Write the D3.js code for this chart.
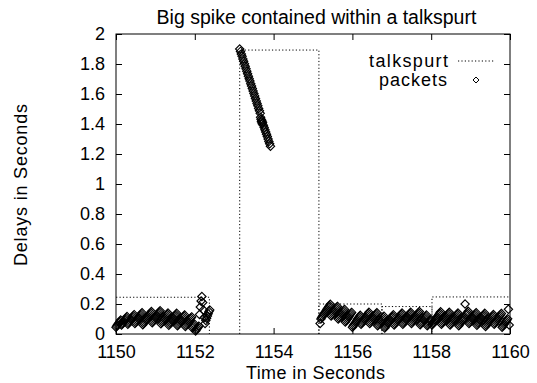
<!DOCTYPE html>
<html><head><meta charset="utf-8">
<script src="https://cdn.jsdelivr.net/npm/d3@7"></script>
<style>body{margin:0;background:#fff}svg{display:block}text{font-family:"Liberation Sans",Arial,Helvetica,sans-serif;fill:#000}</style>
</head><body><svg id="c" width="537" height="383"></svg>
<script>
// ---- data ----
const xTicks = [1150, 1152, 1154, 1156, 1158, 1160];
const yTicks = [0, 0.2, 0.4, 0.6, 0.8, 1, 1.2, 1.4, 1.6, 1.8, 2];
const yTickLabels = ["0", "0.2", "0.4", "0.6", "0.8", "1", "1.2", "1.4", "1.6", "1.8", "2"];
// talkspurt rectangles
const tsStart  = [1149.9, 1153.14, 1155.15, 1156.75, 1158.02];
const tsEnd    = [1152.37, 1155.15, 1156.75, 1158.02, 1160.3];
const tsHeight = [0.245, 1.893, 0.2, 0.183, 0.247];
// packet delays (ms), packets every 20 ms
const pktStep = 0.02;
const burst1Start = 1150.0;
const burst1 = [45,53,61,69,77,85,93,60,68,76, 84,92,100,108,116,65,73,81,89,97,
  105,113,121,129,70,78,86,94,102,110, 118,126,134,142,62,70,78,86,94,102,
  110,118,126,134,142,150,75,83,91,99, 107,115,123,131,139,147,155,68,76,84,
  92,100,108,116,124,132,140,58,66,74, 82,90,98,106,114,122,130,138,55,63,
  71,79,87,95,103,111,119,127,50,58, 66,74,82,90,98,106,114,40,48,56,
  64,20,28,36,44,52,130,180,220,250, 210,160,110,70,90,105,120,135,150,160];
const burst3Start = 1155.18;
const burst3 = [70,100,110,118,126,134,142,150,158,166, 174,182,190,198,120,128,136,144,152,160,
  168,176,184,100,108,116,124,132,140,148, 156,164,80,88,96,104,112,120,128,136,
  144,45,53,61,69,77,85,93,101,109, 117,125,65,73,81,89,97,105,113,121,
  129,137,145,70,78,86,94,102,110,118, 126,134,142,55,63,71,79,87,95,103,
  111,119,40,48,56,64,72,80,88,96, 104,112,120,128,60,68,76,84,92,100,
  108,116,124,132,140,65,73,81,89,97, 105,113,121,129,137,145,70,78,86,94,
  102,110,118,126,134,142,150,62,70,78, 86,94,102,110,118,126,55,63,71,79,87,95];
const burst4Start = 1158.02;
const burst4 = [60,68,76,84,92,100,108,116,124,132, 140,148,65,73,81,89,97,105,113,121,
  129,137,145,60,68,76,84,92,100,108, 116,124,132,140,55,63,71,79,87,95,
  103,111,200,127,135,143,151,70,78,86, 94,102,110,118,126,134,142,58,66,74,
  82,90,98,106,114,122,130,138,50,58, 66,74,82,90,98,106,114,122,130,65,
  73,81,89,97,105,113,121,129,137,45, 53,61,69,77,85,93,101,165,60];
// the spike (seconds)
const spikeTimes = [1153.14,1153.16,1153.18,1153.20,1153.22,1153.24,1153.26,1153.28,1153.30,1153.32,
  1153.34,1153.36,1153.38,1153.40,1153.42,1153.44,1153.46,1153.48,1153.50,1153.52,
  1153.54,1153.56,1153.58,1153.60,1153.62,1153.64,1153.66,
  1153.67,1153.68,1153.69,1153.70,1153.71,1153.72,
  1153.74,1153.76,1153.78,1153.80,1153.82,1153.84,1153.86,1153.88,1153.90,1153.92];
const spikeDelays = [1.900,1.884,1.867,1.851,1.834,1.818,1.801,1.785,1.768,1.752,
  1.735,1.719,1.702,1.686,1.669,1.653,1.636,1.620,1.603,1.587,
  1.570,1.554,1.537,1.521,1.504,1.488,1.471,
  1.445,1.432,1.415,1.425,1.402,1.412,
  1.392,1.377,1.362,1.347,1.332,1.316,1.300,1.284,1.268,1.252];

// ---- layout ----
const svg = d3.select("#c");
const W = 537, H = 383;
const m = {l:116, r:510, t:34, b:334};
const x = d3.scaleLinear().domain([1150, 1160]).range([m.l, m.r]);
const y = d3.scaleLinear().domain([0, 2]).range([m.b, m.t]);
svg.append("rect").attr("width", W).attr("height", H).attr("fill", "#fff");

const pts = [];
const addBurst = (start, arr) => arr.forEach((v, i) => pts.push({t: start + i * pktStep, d: v / 1000}));
addBurst(burst1Start, burst1);
addBurst(burst3Start, burst3);
addBurst(burst4Start, burst4);
spikeTimes.forEach((t, i) => pts.push({t: t, d: spikeDelays[i]}));

svg.append("clipPath").attr("id", "clip").append("rect")
  .attr("x", m.l).attr("y", m.t).attr("width", m.r - m.l).attr("height", m.b - m.t);

// talkspurts
const g = svg.append("g").attr("clip-path", "url(#clip)");
tsStart.forEach((s, i) => {
  const p = d3.path();
  p.moveTo(x(s), y(0)); p.lineTo(x(s), y(tsHeight[i])); p.lineTo(x(tsEnd[i]), y(tsHeight[i])); p.lineTo(x(tsEnd[i]), y(0));
  g.append("path").attr("d", p.toString()).attr("fill", "none").attr("stroke", "#000")
    .attr("stroke-width", 1).attr("stroke-dasharray", "1.2,2.2");
});

// packets (hollow diamonds)
const diamond = "M0,-4.2L4.2,0L0,4.2L-4.2,0Z";
const gp = svg.append("g");
gp.selectAll("path.pk").data(pts).enter().append("path").attr("class", "pk")
  .attr("d", diamond).attr("transform", d => `translate(${x(d.t)},${y(d.d)})`)
  .attr("fill", "none").attr("stroke", "#000").attr("stroke-width", 1.1);

// frame
svg.append("rect").attr("x", m.l).attr("y", m.t).attr("width", m.r - m.l).attr("height", m.b - m.t)
  .attr("fill", "none").attr("stroke", "#000").attr("stroke-width", 1);

// axes (gnuplot-style inward mirrored ticks)
const tl = 6;
const axB = d3.axisBottom(x).tickValues(xTicks).tickSizeInner(-tl).tickSizeOuter(0).tickPadding(11).tickFormat(d3.format("d"));
const axT = d3.axisTop(x).tickValues(xTicks).tickSizeInner(-tl).tickSizeOuter(0).tickFormat("");
const axL = d3.axisLeft(y).tickValues(yTicks).tickSizeInner(-tl).tickSizeOuter(0).tickPadding(11).tickFormat((d, i) => yTickLabels[i]);
const axR = d3.axisRight(y).tickValues(yTicks).tickSizeInner(-tl).tickSizeOuter(0).tickFormat("");
[[axB, `translate(0,${m.b})`], [axT, `translate(0,${m.t})`], [axL, `translate(${m.l},0)`], [axR, `translate(${m.r},0)`]]
  .forEach(([a, tr]) => {
    const gg = svg.append("g").attr("transform", tr).call(a);
    gg.select(".domain").remove();
    gg.selectAll("line").attr("stroke", "#000");
    gg.selectAll("text").attr("font-size", 18).attr("font-family", '"Liberation Sans",Arial,sans-serif').attr("fill", "#000");
  });

// titles
svg.append("text").attr("x", 316.5).attr("y", 24).attr("text-anchor", "middle").attr("font-size", 19.5)
  .text("Big spike contained within a talkspurt");
svg.append("text").attr("x", 315.5).attr("y", 379).attr("text-anchor", "middle").attr("font-size", 18)
  .attr("textLength", 139).attr("lengthAdjust", "spacing")
  .text("Time in Seconds");
svg.append("text").attr("transform", "translate(27,185) rotate(-90)").attr("text-anchor", "middle").attr("font-size", 18)
  .attr("textLength", 162).attr("lengthAdjust", "spacing")
  .text("Delays in Seconds");

// legend
svg.append("text").attr("x", 448).attr("y", 67).attr("text-anchor", "end").attr("font-size", 18)
  .attr("textLength", 79).attr("lengthAdjust", "spacing").text("talkspurt");
svg.append("line").attr("x1", 458).attr("x2", 495).attr("y1", 61).attr("y2", 61)
  .attr("stroke", "#000").attr("stroke-dasharray", "1.2,2.2");
svg.append("text").attr("x", 447).attr("y", 86).attr("text-anchor", "end").attr("font-size", 18)
  .attr("textLength", 68).attr("lengthAdjust", "spacing").text("packets");
svg.append("path").attr("d", "M0,-3L3,0L0,3L-3,0Z").attr("transform", "translate(476,80)")
  .attr("fill", "none").attr("stroke", "#000").attr("stroke-width", 1);
</script></body></html>
